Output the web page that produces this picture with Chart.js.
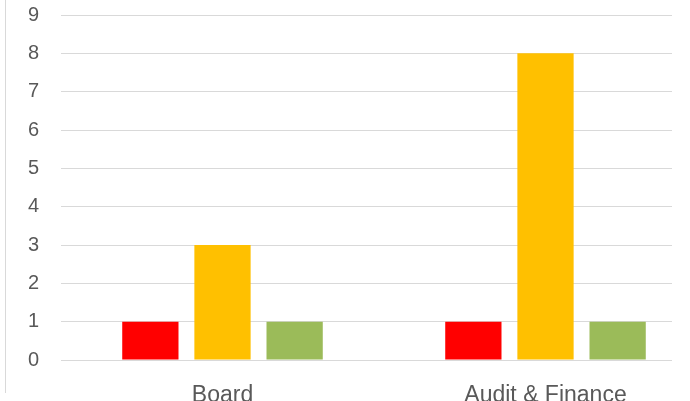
<!DOCTYPE html>
<html>
<head>
<meta charset="utf-8">
<script src="https://cdn.jsdelivr.net/npm/chart.js@4"></script>
<style>
  html, body { margin: 0; padding: 0; background: #fff; overflow: hidden; }
  /* moldura cinza à esquerda e recorte do gráfico */
  #borda { position: absolute; left: 5px; top: 0; width: 1px; height: 393px; background: #d9d9d9; }
  #recorte { position: absolute; left: 0; top: 0; width: 672px; height: 401px; overflow: hidden; }
  #caixa { position: relative; width: 715px; height: 401px; }
</style>
</head>
<body>
<div id="borda"></div>
<div id="recorte">
  <div id="caixa"><canvas id="graficoComites"></canvas></div>
</div>
<script>
// Dados
const categorias = ['Board', 'Audit & Finance'];
const serieVermelha = [1, 1];
const serieAmarela = [3, 8];
const serieVerde = [1, 1];
const ticksY = [0, 1, 2, 3, 4, 5, 6, 7, 8, 9];

const ctx = document.getElementById('graficoComites').getContext('2d');

const dados = {
  labels: categorias,
  datasets: [
    { label: 'Vermelho', data: serieVermelha, backgroundColor: '#FF0000' },
    { label: 'Amarelo', data: serieAmarela, backgroundColor: '#FFC000' },
    { label: 'Verde', data: serieVerde, backgroundColor: '#9BBB59' }
  ]
};

const config = {
  type: 'bar',
  data: dados,
  options: {
    responsive: true,
    maintainAspectRatio: false,
    animation: false,
    datasets: {
      bar: { categoryPercentage: 0.67, barPercentage: 0.78 }
    },
    layout: { padding: { left: 0, right: 8, top: 15, bottom: 0 } },
    plugins: {
      legend: { display: false },
      tooltip: { enabled: false }
    },
    scales: {
      x: {
        afterFit: (scale) => {
          scale.height = 41;
          scale.paddingLeft = 0; scale.paddingRight = 0;
        },
        grid: { display: false },
        border: { display: false },
        ticks: {
          color: '#595959',
          font: { family: 'Liberation Sans', size: 23 },
          padding: 14
        }
      },
      y: {
        min: 0,
        max: 9,
        afterBuildTicks: (scale) => { scale.ticks = ticksY.map(v => ({ value: v })); },
        afterFit: (scale) => {
          scale.width = 61;
          scale.paddingTop = 0; scale.paddingBottom = 0;
        },
        grid: { color: '#d9d9d9', lineWidth: 1, drawTicks: false },
        border: { display: false },
        ticks: {
          color: '#595959',
          font: { family: 'Liberation Sans', size: 20 },
          padding: 22
        }
      }
    }
  }
};

// Renderizando o gráfico
const graficoComites = new Chart(ctx, config);
</script>
</body>
</html>
